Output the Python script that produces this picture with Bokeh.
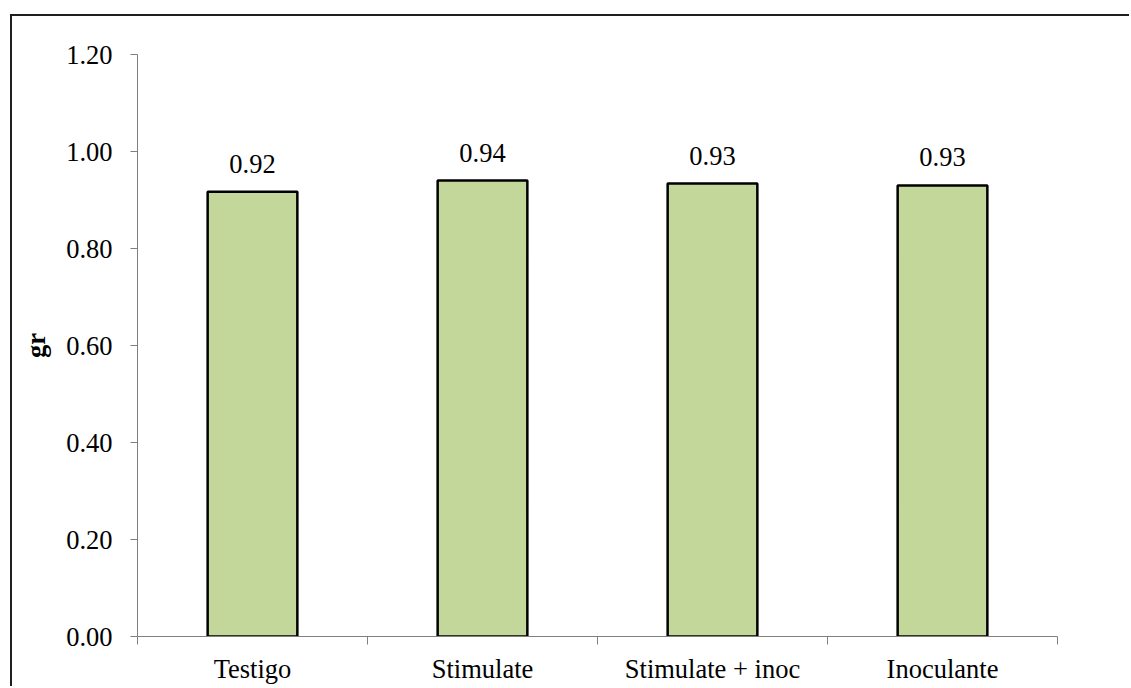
from bokeh.plotting import figure
from bokeh.models import FixedTicker, Range1d, ColumnDataSource
from bokeh.core.properties import value
from bokeh.embed import file_html
from bokeh.resources import INLINE

categories = ["Testigo", "Stimulate", "Stimulate + inoc", "Inoculante"]
values = [0.917, 0.940, 0.934, 0.930]
y_ticks = [0.0, 0.2, 0.4, 0.6, 0.8, 1.0, 1.2]
y_label = "gr"

FONT = "Liberation Serif"
FS = "26.5px"

xs = [i + 0.5 for i in range(len(categories))]
labels = ["%.2f" % v for v in values]
src = ColumnDataSource(dict(x=xs, top=values, label=labels))

p = figure(frame_width=920, frame_height=582, output_backend="svg", toolbar_location=None,
           x_range=Range1d(0, len(categories)), y_range=Range1d(0, 1.2),
           min_border_left=125, min_border_top=38, min_border_right=72, min_border_bottom=34,
           styles={"margin-left": "10px", "margin-top": "14px",
                   "border-left": "2px solid #1f1f1f", "border-top": "2px solid #1f1f1f"})
p.outline_line_color = None
p.grid.visible = False
p.background_fill_color = "white"
p.border_fill_color = "white"

p.vbar(x="x", top="top", width=0.39, bottom=0, source=src,
       fill_color="#C4D79B", line_color="black", line_width=2.5)
p.text(x="x", y="top", text="label", source=src, text_align="center",
       text_baseline="alphabetic", y_offset=-28,
       text_font=value(FONT), text_font_size=FS, text_color="black")

# x axis: labels at category centers, minor ticks at boundaries
p.xaxis.ticker = FixedTicker(ticks=xs, minor_ticks=list(range(len(categories) + 1)))
p.xaxis.major_label_overrides = {x: c for x, c in zip(xs, categories)}
p.xaxis.major_tick_out = 0
p.xaxis.major_tick_in = 0
p.xaxis.minor_tick_out = 8
p.xaxis.minor_tick_in = 0
p.xaxis.minor_tick_line_color = "#808080"
p.xaxis.axis_line_color = "#808080"
p.xaxis.major_label_standoff = 9
p.xaxis.major_label_text_font = FONT
p.xaxis.major_label_text_font_size = FS
p.xaxis.major_label_text_color = "black"

# y axis
p.yaxis.ticker = FixedTicker(ticks=y_ticks, minor_ticks=[])
p.yaxis.major_label_overrides = {t: "%.2f" % t for t in y_ticks}
p.yaxis.major_tick_out = 7
p.yaxis.major_tick_in = 0
p.yaxis.minor_tick_out = 0
p.yaxis.minor_tick_in = 0
p.yaxis.major_tick_line_color = "#808080"
p.yaxis.axis_line_color = "#808080"
p.yaxis.major_label_standoff = 18
p.yaxis.major_label_text_font = FONT
p.yaxis.major_label_text_font_size = FS
p.yaxis.major_label_text_color = "black"
p.yaxis.axis_label = y_label
p.yaxis.axis_label_text_font = FONT
p.yaxis.axis_label_text_font_size = FS
p.yaxis.axis_label_text_font_style = "bold"
p.yaxis.axis_label_text_color = "black"
p.yaxis.axis_label_standoff = 12

open("out.html", "w").write(file_html(p, INLINE))
